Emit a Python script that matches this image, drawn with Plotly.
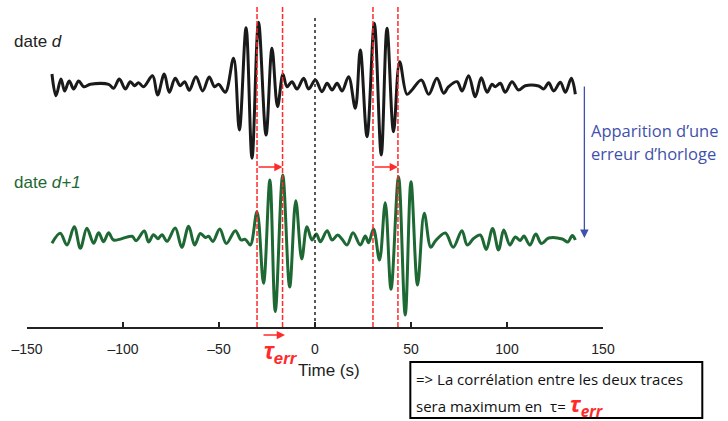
import plotly.graph_objects as go

# Trace on day d: times (s) of successive turning points and their amplitudes
black_t = [-137.0, -134.9, -132.3, -130.4, -128.0, -125.7, -123.1, -120.5, -117.0, -107.5,
           -104.9, -101.9, -98.8, -96.2, -94.0, -91.9, -89.3, -84.6, -82.0, -78.5,
           -75.9, -72.8, -70.2, -67.9, -65.5, -62.0, -58.5, -55.1, -52.3, -50.2,
           -46.7, -42.4, -39.4, -35.9, -32.8, -29.4, -25.5, -22.4, -19.5, -16.7,
           -14.6, -12.0, -9.4, -5.9, -3.3, 0.2, 3.6, 6.3, 8.9, 11.5,
           14.1, 17.5, 21.0, 23.6, 27.1, 30.9, 34.5, 37.5, 40.9, 44.1,
           47.9, 50.5, 55.4, 59.2, 63.5, 67.0, 69.6, 74.0, 76.6, 80.0,
           83.5, 86.6, 89.6, 92.2, 93.9, 96.5, 99.1, 102.6, 106.0, 109.5,
           116.5, 119.1, 121.7, 124.3, 127.8, 130.4, 133.5, 135.6]
black_amp = [10, -11.7, 5, -7, 3, -5, 3, -2.7, -0.3, -0.3,
             -4.3, 5, -5, 2.3, -1.7, 1.3, -2.7, 8.3, -11, 10,
             -8.3, 5.7, -1.7, 2.3, -6.3, 7.3, -7, 7, -2.7, -0.3,
             -8.3, 25.7, -46, 56.3, -74.3, 61.7, -51, 35.7, -22.7, 9.7,
             -2.7, 2.3, -5, 5.7, -5, 4, -7.7, 0.7, -6, 0.7,
             -7, 7.3, -24.3, 34, -52.7, 60.7, -71, 55.7, -47.7, 22.3,
             -10.3, -6, 4, -10.3, 5.7, -9.3, -2.7, 2.3, -7, 8.3,
             -12.7, 6.3, -8.3, -0.3, -2.7, 0.7, -8.3, 2.3, -6, -1.7,
             -2, -5, 1.3, -7, 1.7, -8.3, 5.7, -10.3]

# Trace on day d+1
green_t = [-137.0, -132.7, -129.2, -125.4, -122.2, -118.8, -115.3, -112.7, -110.1, -107.5,
           -104.9, -95.3, -93.2, -88.9, -86.7, -84.1, -81.8, -79.7, -77.1, -72.8,
           -69.4, -65.8, -62.7, -59.7, -57.1, -55.4, -53.2, -49.6, -46.2, -41.5,
           -38.5, -36.3, -33.7, -30.2, -26.8, -23.5, -20.7, -16.8, -13.2, -10.0,
           -6.9, -4.2, -1.6, 0.7, 2.8, 6.3, 8.9, 11.8, 14.1, 16.7,
           19.8, 23.6, 26.2, 27.9, 30.5, 33.6, 36.6, 39.6, 43.5, 47.0,
           50.0, 53.4, 56.9, 60.3, 62.7, 67.9, 72.0, 76.5, 79.3, 82.6,
           86.1, 89.2, 92.5, 95.6, 98.3, 101.5, 104.3, 106.9, 108.8, 111.9,
           115.0, 117.9, 121.7, 128.8, 131.7, 134.0, 135.6]
green_amp = [-5.3, 4.7, -7, 11.3, -10.3, 9.7, -5.3, 5.3, -3.7, 5.3,
             -2, 1.7, -2.7, 7, -4, 3.3, -0.7, 3.3, -3.3, 10,
             -9.3, 11.7, -7, 4.5, 0.5, 1.7, -3.5, 9, -5.5, 7.3,
             -2, -1.3, -7, 26.3, -45.3, 58, -73.5, 63, -49, 37.3,
             -21, 11.3, -2, 4, -3.7, 7.3, -2, 3, -1.3, -7,
             5.3, -7, 2, -4.7, 9, -22, 35.3, -51.3, 61.3, -77,
             56.3, -47, 24.7, -9.3, -3, 5, -9.3, 7.3, -7, -0.5,
             3, -11.5, 9.5, -12, 8, -7, 1, -2.5, 2, -7,
             4, -5.5, 0, -1, -4, 2.5, -2]

# Picking times (s) of the two arrivals on each day
picks_d = [-30.2, 30.2]
picks_d1 = [-16.9, 43.2]
x_ticks = [-150, -100, -50, 0, 50, 100, 150]

BLACK_BASE = 243
GREEN_BASE = 89
GREEN = "#1e6834"
RED = "#ff2a2a"
BLUE = "#3f51ac"
FONT = "Liberation Sans"
WIDE = "Open Sans"

fig = go.Figure()
fig.add_trace(go.Scatter(
    x=black_t, y=[BLACK_BASE + a for a in black_amp], mode="lines",
    line=dict(color="#1a1a1a", width=3, shape="spline", smoothing=1.0),
    hoverinfo="skip", showlegend=False))
fig.add_trace(go.Scatter(
    x=green_t, y=[GREEN_BASE + a for a in green_amp], mode="lines",
    line=dict(color=GREEN, width=3, shape="spline", smoothing=1.0),
    hoverinfo="skip", showlegend=False))

shapes = []
for t in picks_d + picks_d1:
    shapes.append(dict(type="line", xref="x", yref="y", x0=t, x1=t, y0=0, y1=321,
                       line=dict(color=RED, width=1.5, dash="5px,2px"), layer="above"))
shapes.append(dict(type="line", xref="x", yref="y", x0=0, x1=0, y0=0, y1=309,
                   line=dict(color="#222222", width=1.5, dash="dot"), layer="above"))
# text box under the axis
shapes.append(dict(type="rect", xref="paper", yref="paper",
                   x0=0.6655, x1=1.1724, y0=-0.2783, y1=-0.107,
                   line=dict(color="black", width=2), fillcolor="white", layer="above"))

annotations = []
# shift arrows between the picks
for a0, a1 in zip(picks_d, picks_d1):
    annotations.append(dict(x=a1, y=160, ax=a0, ay=160, xref="x", yref="y",
                            axref="x", ayref="y", text="", showarrow=True,
                            arrowhead=2, arrowsize=1.1, arrowwidth=1.5,
                            arrowcolor=RED, standoff=0, startstandoff=0))
# clock drift arrow
annotations.append(dict(x=140.3, y=89, ax=140.3, ay=242, xref="x", yref="y",
                        axref="x", ayref="y", text="", showarrow=True,
                        arrowhead=2, arrowsize=1.3, arrowwidth=1.3,
                        arrowcolor=BLUE, standoff=0))
# tau_err arrow under the axis (paper position, pixel tail)
annotations.append(dict(x=0.4479, y=-0.0245, ax=-23, ay=0, xref="paper", yref="paper",
                        axref="pixel", ayref="pixel", text="", showarrow=True,
                        arrowhead=2, arrowsize=1.1, arrowwidth=1.5,
                        arrowcolor=RED, standoff=0))

def label(text, x, y, size, color="#222222", xanchor="left", family=FONT):
    annotations.append(dict(text=text, x=x, y=y, xref="paper", yref="paper",
                            xanchor=xanchor, yanchor="middle", showarrow=False,
                            font=dict(family=family, size=size, color=color)))

label("date <i>d</i>", -0.0255, 0.8746, 17)
label("date <i>d+1</i>", -0.0255, 0.4404, 17, GREEN)
label("Apparition d’une", 0.975, 0.6024, 16.5, BLUE, family=WIDE)
label("erreur d’horloge", 0.975, 0.5291, 16.5, BLUE, family=WIDE)
label("<b><i>τ<sub>err</sub></i></b>", 0.4415, -0.078, 24, RED, "center")
label("Time (s)", 0.5248, -0.1345, 17, "#222222", "center")
label("=> La corrélation entre les deux traces", 0.6725, -0.159, 15, "#111111", family=WIDE)
label("sera maximum en  τ= <span style='color:" + RED + ";font-size:22px'><b><i>τ<sub>err</sub></i></b></span>",
      0.6725, -0.2385, 15, "#111111", family=WIDE)

fig.update_layout(
    width=728, height=421, autosize=False,
    margin=dict(l=27, r=125, t=0, b=94),
    paper_bgcolor="white", plot_bgcolor="white",
    shapes=shapes, annotations=annotations,
    xaxis=dict(range=[-150, 150], tickvals=x_ticks, ticktext=[str(v).replace("-", "–") for v in x_ticks],
               showgrid=False, zeroline=False, showline=True, linecolor="#222222",
               linewidth=1.5, ticks="inside", ticklen=5, tickwidth=1.5, tickcolor="#222222",
               ticklabelstandoff=8,
               tickfont=dict(family=FONT, size=14, color="#222222")),
    yaxis=dict(range=[0, 327], visible=False, showgrid=False, zeroline=False),
)

fig.write_html("out.html")
